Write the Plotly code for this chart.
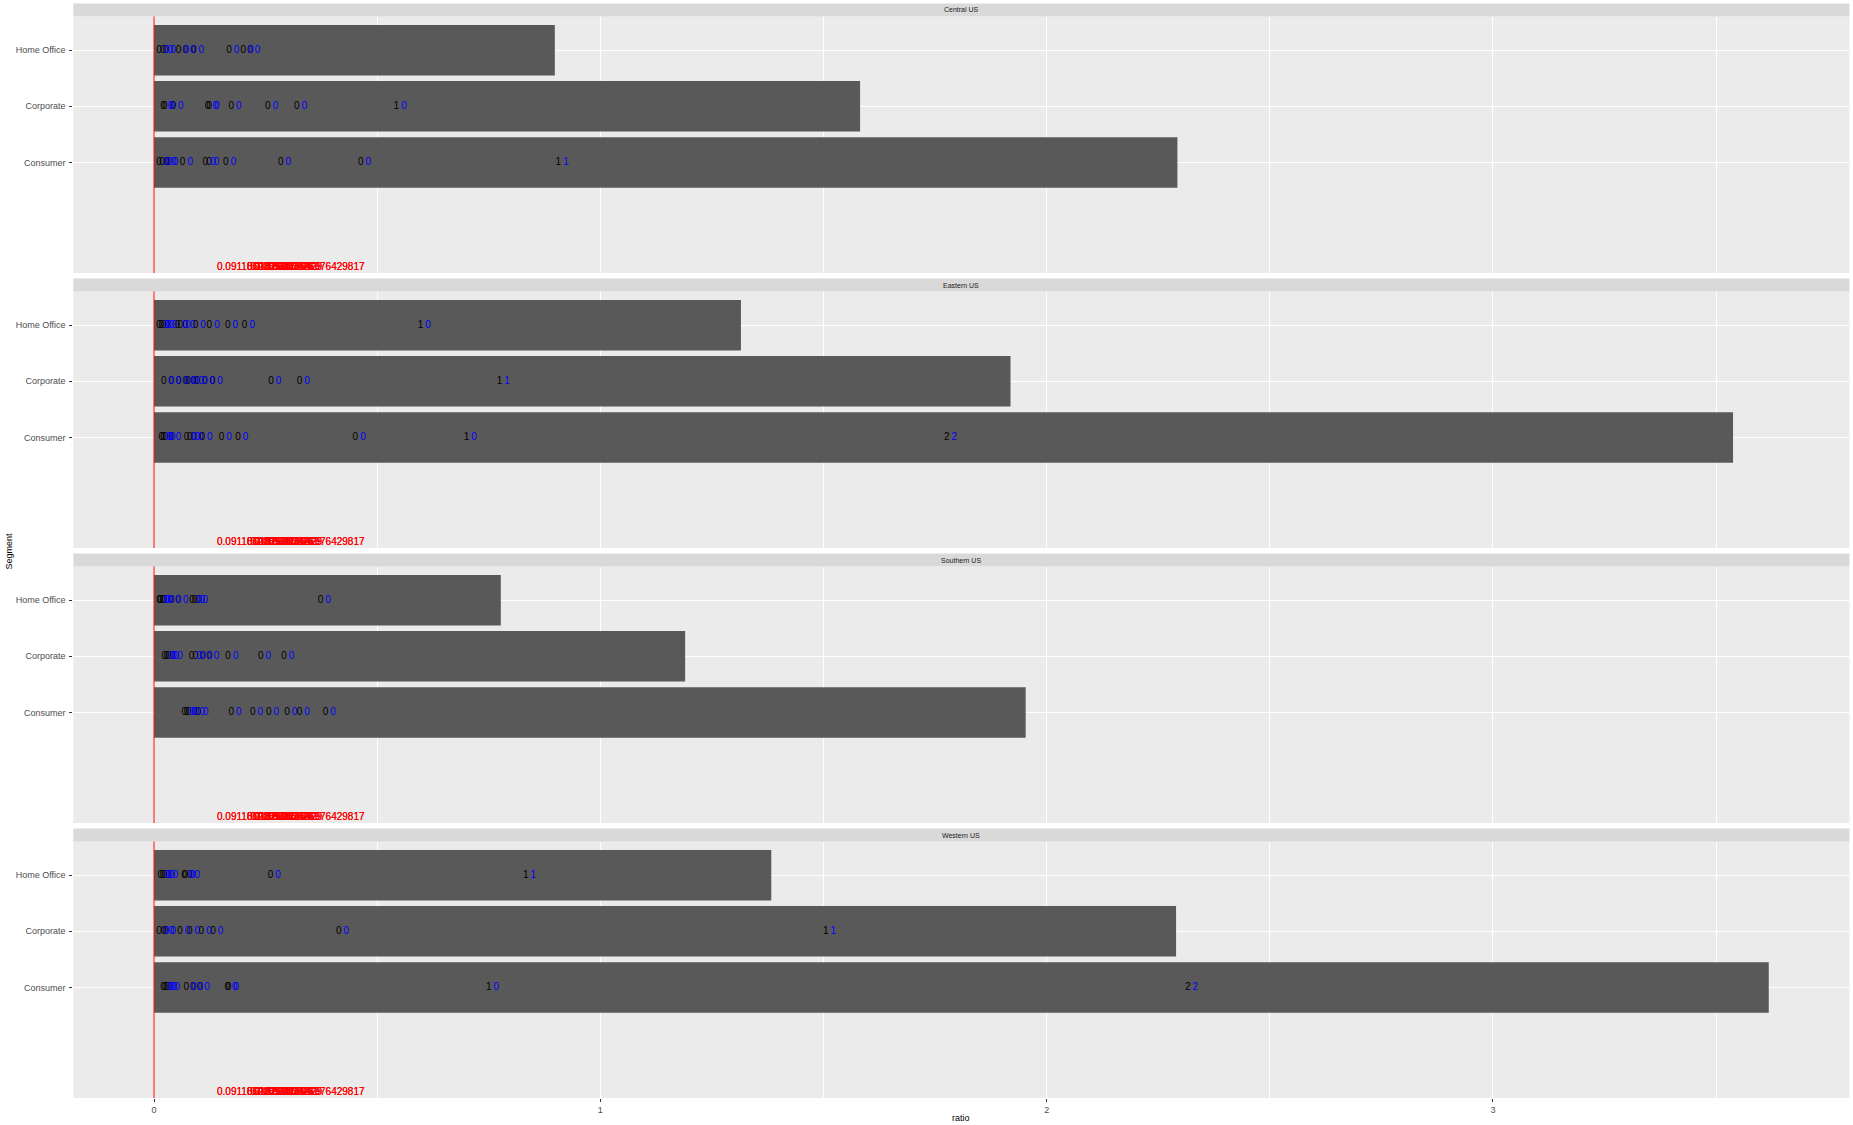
import plotly.graph_objects as go

# ---------------- data ----------------
regions = ["Central US", "Eastern US", "Southern US", "Western US"]
segments = ["Consumer", "Corporate", "Home Office"]
x_ticks = [0, 1, 2, 3]

# total ratio per segment (Consumer, Corporate, Home Office)
bar_central = [2.293, 1.582, 0.898]
bar_eastern = [3.538, 1.919, 1.315]
bar_southern = [1.953, 1.190, 0.777]
bar_western = [3.618, 2.290, 1.383]

# label points: ratio, segment, black label, blue label
central_ratio = [0.011, 0.018, 0.027, 0.031, 0.064, 0.115, 0.123, 0.161, 0.284, 0.463, 0.906,
                 0.020, 0.024, 0.043, 0.120, 0.124, 0.173, 0.255, 0.320, 0.543,
                 0.011, 0.020, 0.026, 0.055, 0.070, 0.089, 0.168, 0.200, 0.215]
central_segment = ["Consumer"] * 11 + ["Corporate"] * 9 + ["Home Office"] * 9
central_label_a = ["0"] * 10 + ["1"] + ["0"] * 8 + ["1"] + ["0"] * 9
central_label_b = ["0"] * 10 + ["1"] + ["0"] * 9 + ["0"] * 9

eastern_ratio = [0.016, 0.020, 0.025, 0.038, 0.073, 0.080, 0.088, 0.108, 0.151, 0.188, 0.451, 0.700, 1.776,
                 0.022, 0.038, 0.055, 0.070, 0.076, 0.089, 0.097, 0.113, 0.131, 0.262, 0.326, 0.774,
                 0.011, 0.016, 0.022, 0.029, 0.052, 0.059, 0.070, 0.093, 0.124, 0.165, 0.203, 0.597]
eastern_segment = ["Consumer"] * 13 + ["Corporate"] * 12 + ["Home Office"] * 12
eastern_label_a = ["0"] * 11 + ["1", "2"] + ["0"] * 11 + ["1"] + ["0"] * 11 + ["1"]
eastern_label_b = ["0"] * 11 + ["0", "2"] + ["0"] * 11 + ["1"] + ["0"] * 11 + ["0"]

southern_ratio = [0.068, 0.073, 0.078, 0.091, 0.099, 0.173, 0.221, 0.257, 0.298, 0.326, 0.384,
                  0.023, 0.028, 0.033, 0.041, 0.084, 0.093, 0.108, 0.123, 0.166, 0.239, 0.291,
                  0.011, 0.014, 0.019, 0.023, 0.038, 0.054, 0.085, 0.091, 0.098, 0.373]
southern_segment = ["Consumer"] * 11 + ["Corporate"] * 11 + ["Home Office"] * 10
southern_label_a = ["0"] * 32
southern_label_b = ["0"] * 32

western_ratio = [0.020, 0.024, 0.029, 0.035, 0.072, 0.087, 0.102, 0.164, 0.167, 0.750, 2.316,
                 0.011, 0.022, 0.026, 0.058, 0.080, 0.106, 0.132, 0.414, 1.505,
                 0.014, 0.019, 0.024, 0.031, 0.067, 0.070, 0.080, 0.261, 0.833]
western_segment = ["Consumer"] * 11 + ["Corporate"] * 9 + ["Home Office"] * 9
western_label_a = ["0"] * 9 + ["1", "2"] + ["0"] * 8 + ["1"] + ["0"] * 8 + ["1"]
western_label_b = ["0"] * 9 + ["0", "2"] + ["0"] * 8 + ["1"] + ["0"] * 8 + ["1"]

# red annotation labels (same in every panel)
red_ratio = [0.212, 0.279, 0.288, 0.297, 0.305, 0.400]
red_label = ["0.0911862835", "0.1182628349", "0.1329983526", "0.1593857261",
             "0.1838265429", "0.1976429817"]
red_level = -0.88

# ---------------- layout constants ----------------
W, H = 1853, 1125
XL, XR = 73.3, 1849.5
FONT = "Liberation Sans, Arial, sans-serif"
seg_pos = {s: i + 1 for i, s in enumerate(segments)}
bars = [bar_central, bar_eastern, bar_southern, bar_western]
pts = [
    (central_ratio, central_segment, central_label_a, central_label_b),
    (eastern_ratio, eastern_segment, eastern_label_a, eastern_label_b),
    (southern_ratio, southern_segment, southern_label_a, southern_label_b),
    (western_ratio, western_segment, western_label_a, western_label_b),
]
all_max = max(max(b) for b in bars)
x_range = [-0.05 * all_max, all_max * 1.05]
y_range = [-0.97, 3.6]
nudge = 0.017

fig = go.Figure()
shapes = []
annotations = []

for k, region in enumerate(regions):
    n = k + 1
    sx = "" if n == 1 else str(n)
    xa, ya = "x" + sx, "y" + sx
    top = 16.5 + 275 * k
    bot = 273.0 + 275 * k
    s_top = 3.5 + 275 * k

    fig.add_trace(go.Bar(
        x=bars[k], y=[seg_pos[s] for s in segments], orientation="h", width=0.9,
        marker=dict(color="#595959", line=dict(width=0)),
        xaxis=xa, yaxis=ya, showlegend=False, hoverinfo="skip"))

    r, sg, la, lb = pts[k]
    yv = [seg_pos[s] for s in sg]
    fig.add_trace(go.Scatter(
        x=r, y=yv, mode="text", text=la, textposition="middle center",
        textfont=dict(family=FONT, size=10, color="#000000"),
        xaxis=xa, yaxis=ya, showlegend=False, hoverinfo="skip"))
    fig.add_trace(go.Scatter(
        x=[v + nudge for v in r], y=yv, mode="text", text=lb, textposition="middle center",
        textfont=dict(family=FONT, size=10, color="#0000FF"),
        xaxis=xa, yaxis=ya, showlegend=False, hoverinfo="skip"))
    # red labels are over-plotted (as in the original)
    for _ in range(2):
        fig.add_trace(go.Scatter(
            x=red_ratio, y=[red_level] * len(red_ratio), mode="text", text=red_label,
            textposition="middle center",
            textfont=dict(family=FONT, size=10, color="#FF0000"),
            xaxis=xa, yaxis=ya, showlegend=False, hoverinfo="skip", cliponaxis=False))

    bottom_panel = (n == len(regions))
    fig.update_layout(**{
        ("xaxis" + sx): dict(
            domain=[XL / W, XR / W], anchor=ya, range=x_range,
            tickvals=x_ticks, showticklabels=bottom_panel,
            ticks="outside" if bottom_panel else "", ticklen=3, tickwidth=1, tickcolor="#333333",
            tickfont=dict(family=FONT, size=9, color="#4D4D4D"),
            showgrid=True, gridcolor="#FFFFFF", gridwidth=1.1, zeroline=False,
            minor=dict(dtick=0.5, tick0=0, showgrid=True, gridcolor="#FFFFFF", gridwidth=0.55, ticks=""),
            showline=False, fixedrange=True,
            **({} if n == 1 else dict(matches="x")),
        ),
        ("yaxis" + sx): dict(
            domain=[1 - bot / H, 1 - top / H], anchor=xa, range=y_range,
            tickvals=[seg_pos[s] for s in segments], ticktext=segments,
            ticks="outside", ticklen=3, tickwidth=1, tickcolor="#333333",
            tickfont=dict(family=FONT, size=9, color="#4D4D4D"),
            ticklabelstandoff=2,
            showgrid=True, gridcolor="#FFFFFF", gridwidth=1.1, zeroline=False,
            showline=False, fixedrange=True,
        ),
    })

    # red vertical line at ratio 0
    shapes.append(dict(type="line", xref=xa, yref=ya + " domain", x0=0, x1=0, y0=0, y1=1,
                       line=dict(color="#FF0000", width=1), layer="above"))
    # strip background
    shapes.append(dict(type="rect", xref="paper", yref="paper",
                       x0=XL / W, x1=XR / W, y0=1 - (s_top + 13) / H, y1=1 - s_top / H,
                       fillcolor="#D9D9D9", line=dict(width=0), layer="below"))
    annotations.append(dict(text=region, xref="paper", yref="paper",
                            x=(XL + XR) / 2 / W, y=1 - (s_top + 6.5) / H,
                            showarrow=False, xanchor="center", yanchor="middle",
                            font=dict(family=FONT, size=7, color="#1A1A1A")))

annotations.append(dict(text="ratio", xref="paper", yref="paper",
                        x=(XL + XR) / 2 / W, y=1 - 1118 / H, showarrow=False,
                        xanchor="center", yanchor="middle",
                        font=dict(family=FONT, size=9, color="#000000")))
annotations.append(dict(text="Segment", xref="paper", yref="paper",
                        x=8.5 / W, y=1 - 551 / H, showarrow=False, textangle=-90,
                        xanchor="center", yanchor="middle",
                        font=dict(family=FONT, size=9, color="#000000")))

fig.update_layout(
    width=W, height=H,
    margin=dict(l=0, r=0, t=0, b=0),
    paper_bgcolor="#FFFFFF", plot_bgcolor="#EBEBEB",
    shapes=shapes, annotations=annotations,
    barmode="overlay", showlegend=False,
    font=dict(family=FONT),
)

fig.write_html("out.html")
